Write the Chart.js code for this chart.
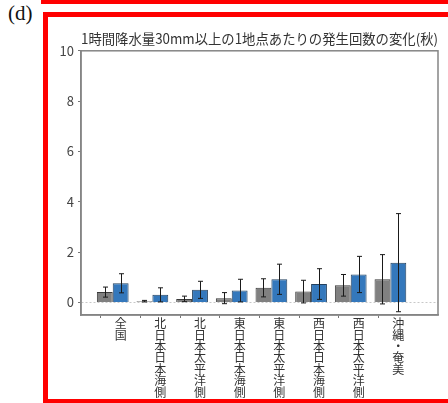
<!DOCTYPE html>
<html>
<head>
<meta charset="utf-8">
<script src="https://cdn.jsdelivr.net/npm/chart.js@4/dist/chart.umd.min.js"></script>
<style>
  html, body { margin: 0; padding: 0; background: #fff; }
  #wrap { position: relative; width: 448px; height: 403px; overflow: hidden; background: #fff; }
  #topbar { position: absolute; left: 41px; top: 0; width: 420px; height: 4px; background: #ff0000; }
  #frame { position: absolute; left: 43px; top: 12px; width: 430px; height: 392px; box-sizing: border-box; border: 5px solid #ff0000; }
  #panel { position: absolute; left: 8px; top: 3px; font-family: 'Liberation Serif', serif; font-size: 21px; line-height: 1; color: #111; }
  #c { position: absolute; left: 0; top: 0; }
</style>
</head>
<body>
<div id="wrap">
  <div id="topbar"></div>
  <div id="frame"></div>
  <div id="panel">(d)</div>
  <canvas id="c" width="448" height="403"></canvas>
</div>
<script>
const title = '1時間降水量30mm以上の1地点あたりの発生回数の変化(秋)';
const categories = ['全国', '北日本日本海側', '北日本太平洋側', '東日本日本海側', '東日本太平洋側', '西日本日本海側', '西日本太平洋側', '沖縄・奄美'];
const grayValues = [0.41, 0.05, 0.14, 0.17, 0.58, 0.43, 0.68, 0.92];
const grayErrors = [0.20, 0.03, 0.11, 0.22, 0.36, 0.45, 0.43, 0.98];
const blueValues = [0.76, 0.30, 0.50, 0.47, 0.92, 0.73, 1.11, 1.58];
const blueErrors = [0.38, 0.28, 0.34, 0.45, 0.60, 0.61, 0.72, 1.95];
const yTickValues = [0, 2, 4, 6, 8, 10];

// pad with an empty slot on each side of the category axis
const labels = [''].concat(categories.map(c => Array.from(c)), ['']);
const pad = arr => [null].concat(arr, [null]);
const errorSets = [pad(grayErrors), pad(blueErrors)];

Chart.defaults.font.family = "'Noto Sans CJK JP', 'Noto Sans', sans-serif";

const errorBarPlugin = {
  id: 'errorBars',
  afterDatasetsDraw(chart) {
    const ctx = chart.ctx;
    const yScale = chart.scales.y;
    ctx.save();
    ctx.strokeStyle = '#1a1a1a';
    ctx.lineWidth = 1;
    errorSets.forEach((errs, di) => {
      const meta = chart.getDatasetMeta(di);
      const vals = chart.data.datasets[di].data;
      meta.data.forEach((bar, i) => {
        const v = vals[i], e = errs[i];
        if (v == null || e == null) return;
        const yTop = yScale.getPixelForValue(v + e);
        const yBot = yScale.getPixelForValue(v - e);
        const x = Math.round(bar.x) + 0.5;
        const cap = 2.5;
        ctx.beginPath();
        ctx.moveTo(x, yTop); ctx.lineTo(x, yBot);
        ctx.moveTo(x - cap, yTop); ctx.lineTo(x + cap, yTop);
        ctx.moveTo(x - cap, yBot); ctx.lineTo(x + cap, yBot);
        ctx.stroke();
      });
    });
    ctx.restore();
  }
};

const framePlugin = {
  id: 'frameBox',
  afterDraw(chart) {
    const {ctx, chartArea: a} = chart;
    ctx.save();
    ctx.strokeStyle = '#858585';
    ctx.lineWidth = 1.5;
    ctx.strokeRect(a.left, a.top, a.right - a.left, a.bottom - a.top);
    ctx.restore();
  }
};

new Chart(document.getElementById('c'), {
  type: 'bar',
  data: {
    labels: labels,
    datasets: [
      { label: 'gray', data: pad(grayValues), backgroundColor: '#808080', borderColor: '#3a3a3a', borderWidth: 1 },
      { label: 'blue', data: pad(blueValues), backgroundColor: '#3478bc', borderColor: '#23405e', borderWidth: 1 },
      { label: 'spacer', data: labels.map(() => null), backgroundColor: 'transparent' }
    ]
  },
  options: {
    responsive: false,
    animation: false,
    layout: { padding: { left: 0, right: 10, top: 0, bottom: 0 } },
    datasets: { bar: { categoryPercentage: 1.2, barPercentage: 1.0 } },
    plugins: {
      legend: { display: false },
      tooltip: { enabled: false },
      title: {
        display: true,
        text: title,
        fullSize: false,
        align: 'center',
        color: '#333',
        font: { size: 14, weight: 'normal' },
        padding: { top: 30, bottom: 4 }
      }
    },
    scales: {
      x: {
        type: 'category',
        offset: false,
        grid: {
          drawOnChartArea: false,
          tickLength: 3,
          tickColor: ctx => (ctx.index === 0 || ctx.index === labels.length - 1) ? 'transparent' : '#777'
        },
        border: { display: true, color: '#858585', width: 1.5 },
        ticks: {
          autoSkip: false,
          maxRotation: 0,
          minRotation: 0,
          padding: 0,
          color: '#333',
          font: { size: 12, lineHeight: 0.95 }
        },
        afterFit(scale) { scale.height = 88; }
      },
      y: {
        min: -0.5,
        max: 10,
        grid: {
          drawOnChartArea: true,
          tickLength: 3,
          color: ctx => (ctx.tick && ctx.tick.value === 0) ? '#c8c8c8' : 'transparent',
          tickColor: '#777',
          lineWidth: 1
        },
        border: { display: true, color: '#858585', width: 1.5, dash: [2, 2] },
        ticks: {
          padding: 4,
          color: '#444',
          font: { size: 13 }
        },
        afterBuildTicks(scale) { scale.ticks = yTickValues.map(v => ({ value: v })); },
        afterFit(scale) { scale.width = 81; }
      }
    }
  },
  plugins: [errorBarPlugin, framePlugin]
});
</script>
</body>
</html>
